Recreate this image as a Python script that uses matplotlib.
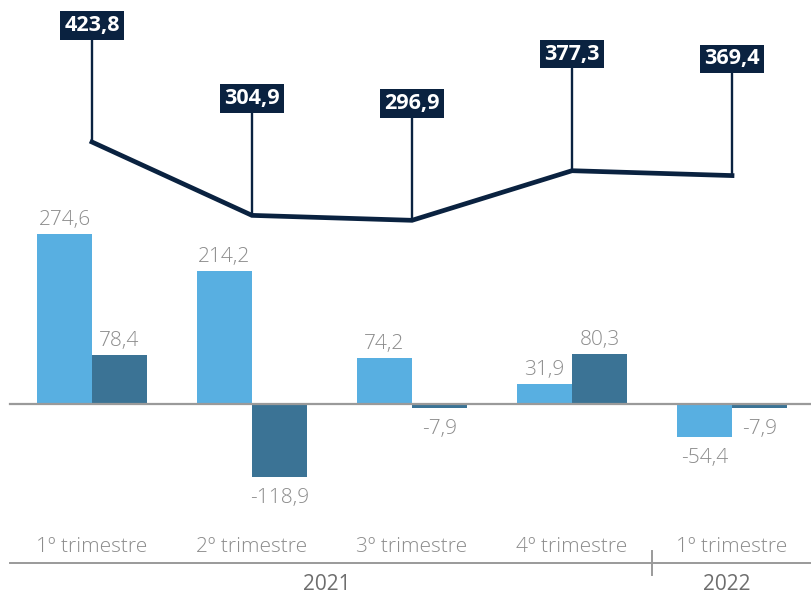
import numpy as np
import matplotlib.pyplot as plt

quarters = ['1º trimestre', '2º trimestre', '3º trimestre', '4º trimestre', '1º trimestre']
years = ['2021', '2022']
year_groups = [[0, 1, 2, 3], [4]]
serie_a = [274.6, 214.2, 74.2, 31.9, -54.4]
serie_b = [78.4, -118.9, -7.9, 80.3, -7.9]
total = [423.8, 304.9, 296.9, 377.3, 369.4]

c_light = '#58AFE1'
c_dark = '#3B7395'
c_navy = '#0A2240'
c_text = '#8C8C8C'
c_axis = '#9A9A9A'

plt.rcParams['font.family'] = ['Open Sans', 'DejaVu Sans']

fig = plt.figure(figsize=(8.11, 5.95), dpi=100)
ax = fig.add_axes([0, 0, 1, 1])
ax.axis('off')

# escala: 160 px por grupo, 0.617 px por unidade, zero em y=403.5 px
z0, k = 403.5, 0.617
ax.set_xlim(-92 / 160, (811 - 92) / 160)
ax.set_ylim((z0 - 595) / k, z0 / k)

def py(p):
    # pixel vertical -> dados
    return (z0 - p) / k

x = np.arange(len(quarters))
w = 0.344
ba = ax.bar(x - w / 2, serie_a, w, color=c_light, zorder=2)
bb = ax.bar(x + w / 2, serie_b, w, color=c_dark, zorder=2)
ax.axhline(0, xmin=10 / 811, xmax=1, color=c_axis, lw=1.6, zorder=3)

for bars, vals in [(ba, serie_a), (bb, serie_b)]:
    for r, v in zip(bars, vals):
        xc = r.get_x() + r.get_width() / 2
        lab = f'{v:.1f}'.replace('.', ',')
        if v >= 0:
            ax.annotate(lab, (xc, v), xytext=(0, 3), textcoords='offset points',
                        ha='center', va='bottom', fontsize=15, color=c_text,
                        fontweight='light')
        else:
            ax.annotate(lab, (xc, v), xytext=(0, -8), textcoords='offset points',
                        ha='center', va='top', fontsize=15, color=c_text,
                        fontweight='light')

ax.plot(x, total, color=c_navy, lw=3.4, zorder=4, solid_joinstyle='miter')
for xi, v in zip(x, total):
    ax.annotate(f'{v:.1f}'.replace('.', ','), (xi, v), xytext=(0, 84),
                textcoords='offset points',
                ha='center', va='center', fontsize=15.5, fontweight='bold', color='white',
                bbox=dict(boxstyle='square,pad=0.18', fc=c_navy, ec='none'),
                arrowprops=dict(arrowstyle='-', color=c_navy, lw=1.7,
                                shrinkA=0, shrinkB=0), zorder=5)

# eixo de categorias
for xi, q in zip(x, quarters):
    ax.text(xi, py(547), q, ha='center', va='center', fontsize=15,
            color=c_text, fontweight='light')
ax.axhline(py(563), xmin=10 / 811, xmax=1, color=c_axis, lw=1.4)
ax.plot([3.5, 3.5], [py(551), py(575)], color=c_axis, lw=1.4)
for yr, g in zip(years, year_groups):
    xm = (min(g) + max(g)) / 2
    ax.text(xm - 0.03, py(585), yr, ha='center', va='center', fontsize=15, color='#6E6E6E')

fig.savefig('out.png', dpi=100)
